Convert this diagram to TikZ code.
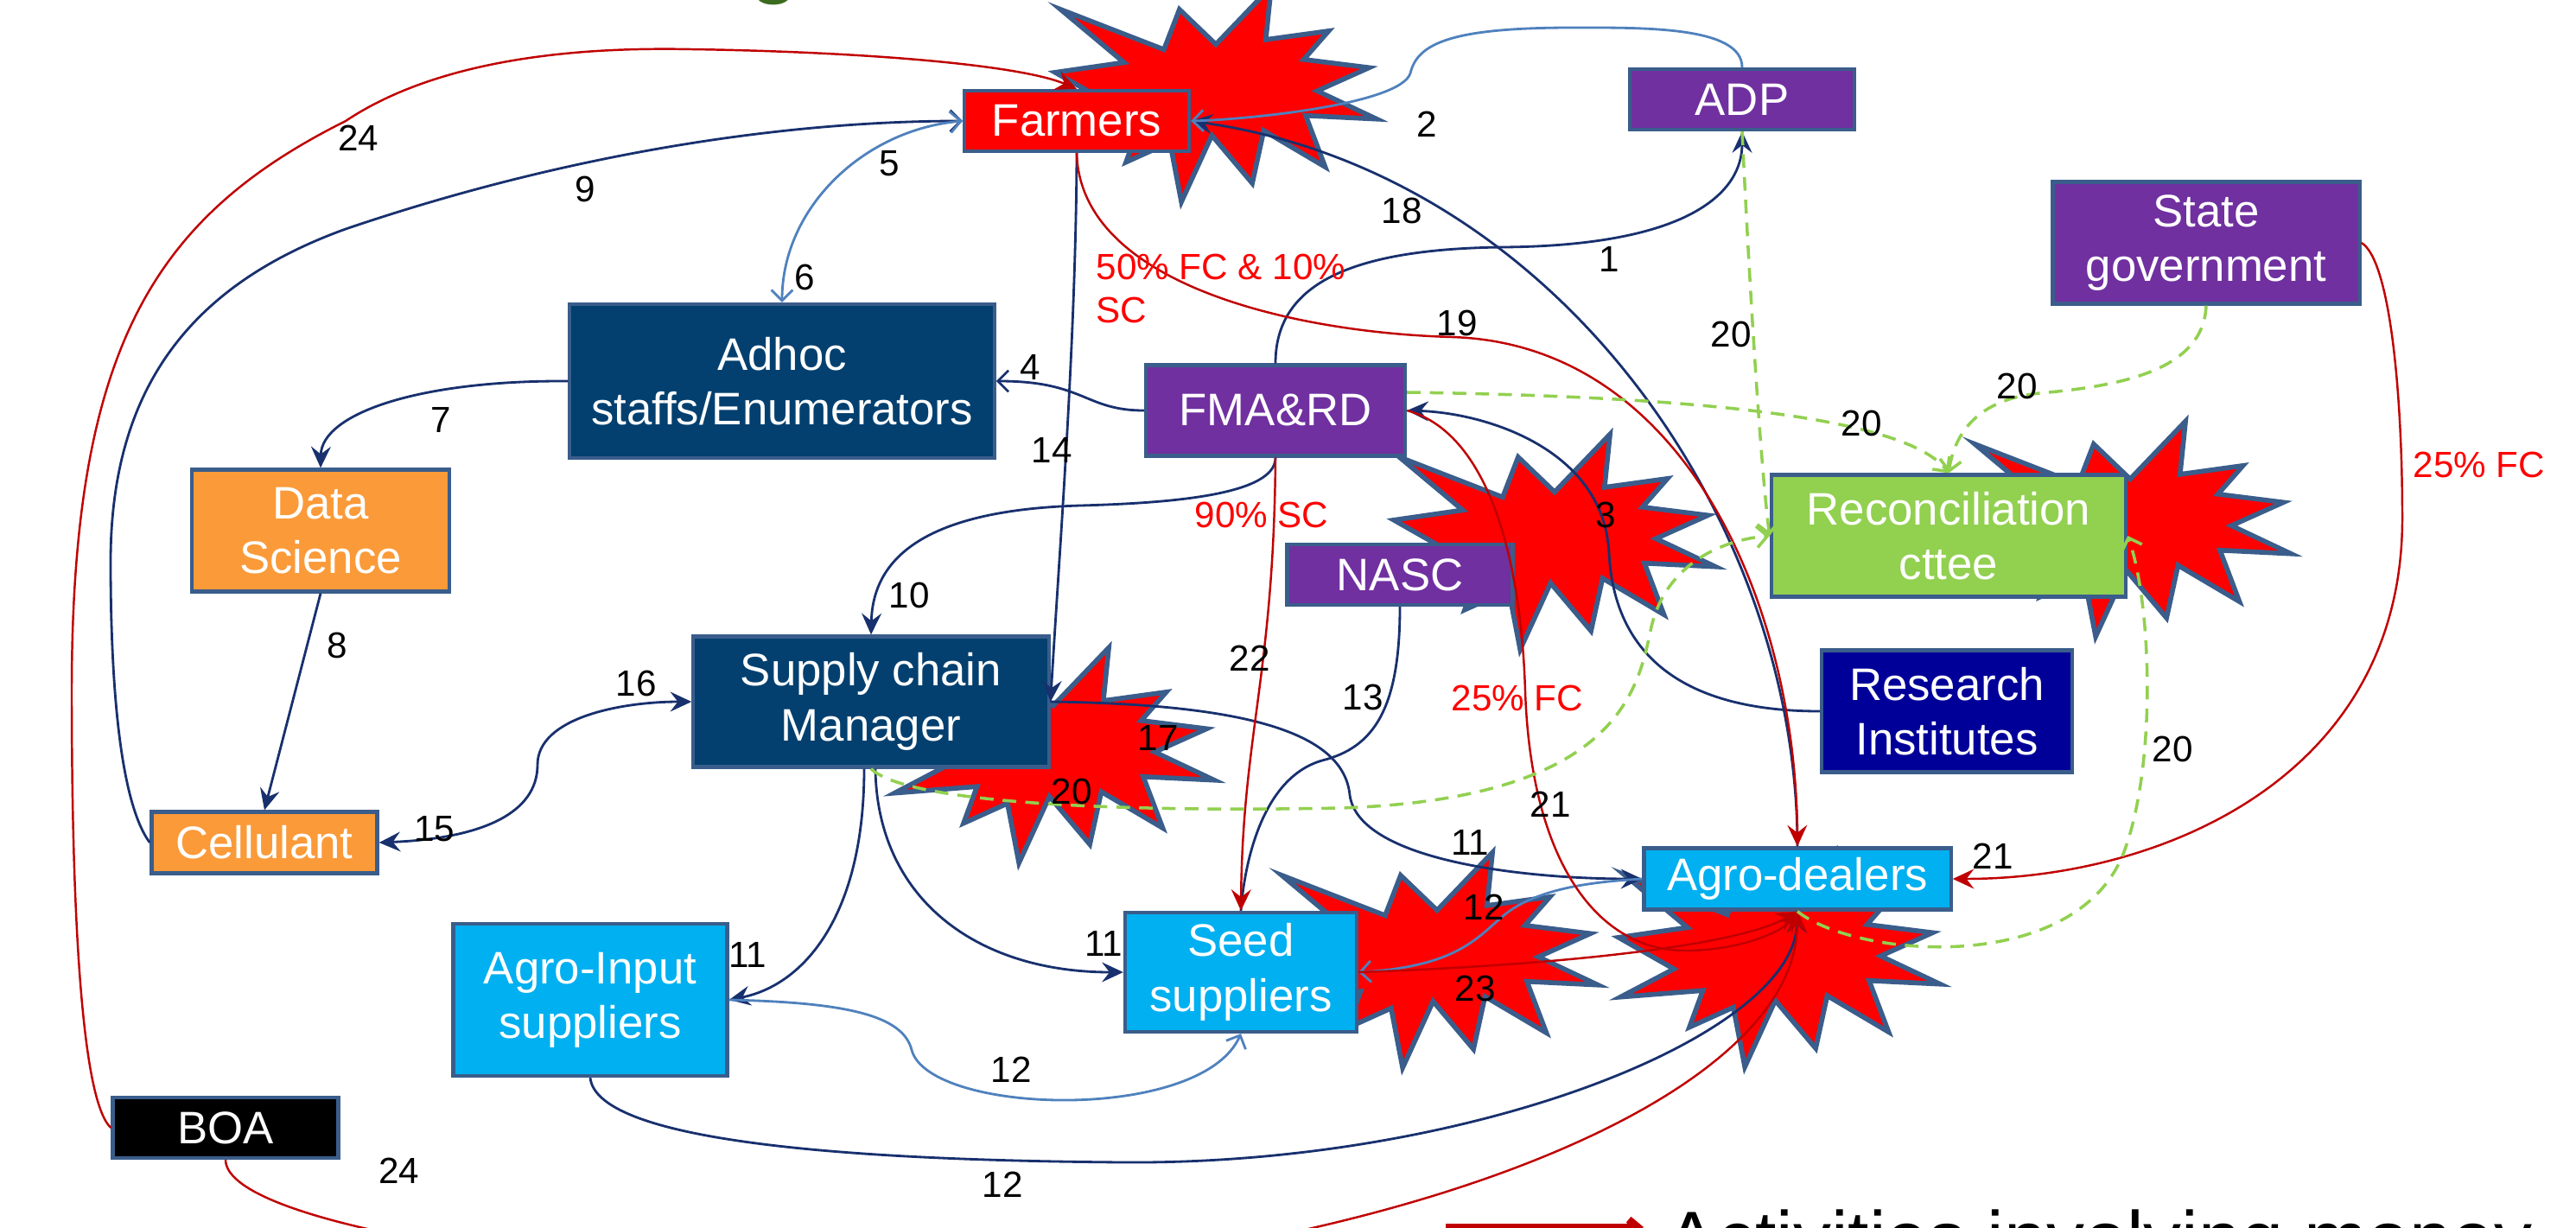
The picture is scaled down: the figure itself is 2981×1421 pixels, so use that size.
\documentclass[tikz,border=0pt]{standalone}
\usepackage{fontspec}
\setmainfont{Liberation Sans}
\usetikzlibrary{arrows.meta}
\definecolor{navyln}{HTML}{18306E}
\definecolor{lblue}{HTML}{4F81BD}
\definecolor{redln}{HTML}{C00000}
\definecolor{grn}{HTML}{92D050}
\definecolor{bordc}{HTML}{3A5D8B}
\definecolor{purp}{HTML}{7030A0}
\definecolor{dblue}{HTML}{03406F}
\definecolor{orng}{HTML}{FB9A39}
\definecolor{cyanb}{HTML}{00B0F0}
\definecolor{navyb}{HTML}{000099}
\definecolor{recg}{HTML}{92D050}
\definecolor{ttlgreen}{HTML}{3A6B1E}
\tikzset{
  ST/.tip={Stealth[length=7pt,width=6.5pt,inset=2.5pt]},
  OV/.tip={Straight Barb[length=3.5pt,width=7pt]},
  box/.style={draw=bordc, line width=1.2pt, text=white, align=center,
    font=\fontsize{15}{18}\selectfont, inner sep=0pt},
  lbl/.style={font=\fontsize{12}{14.2}\selectfont, inner sep=0pt},
  rlbl/.style={lbl, text=red},
  nv/.style={draw=navyln, line width=0.8pt},
  lb/.style={draw=lblue, line width=0.8pt},
  rd/.style={draw=redln, line width=0.7pt},
  gd/.style={draw=grn, line width=1pt, dash pattern=on 4.5pt off 3pt},
  boomstyle/.style={fill=red, draw=bordc, line width=1.6pt, line join=miter},
}
\newcommand{\boomat}[2]{%
  \filldraw[boomstyle, shift={(#1,#2)}, xscale=1.722, yscale=1.153]
  (0,-50) -- (37.22,-108) -- (33.55,-54.75) -- (75.8,-63.43) -- (59.02,-34.85)
  -- (102.97,-26.63) -- (68.07,-3.25) -- (108,24.9) -- (60.37,21.42)
  -- (73.45,72.95) -- (32.2,36.57) -- (24.47,89.37) -- (-2.68,41.35)
  -- (-23.15,108) -- (-30.85,48.27) -- (-60.38,68.17) -- (-51.33,31.37)
  -- (-106.65,37.87) -- (-70.78,9.75) -- (-108,-21.85) -- (-61.73,-31.83)
  -- (-104.3,-85.05) -- (-34.88,-44.8) -- (-24.48,-85.05) -- cycle;}
\begin{document}
\begin{tikzpicture}[x=0.01cm, y=-0.01cm]
\useasboundingbox (0,0) rectangle (2981,1421);
\clip (0,0) rectangle (2981,1421);
\fill[white] (0,0) rectangle (2981,1421);

% cut-off title letter
\node[font=\fontsize{26}{30}\selectfont\bfseries, text=ttlgreen, anchor=base, inner sep=0pt] (ttl) at (896,-14) {g};

% explosions
\boomat{1407}{109}
\boomat{1799}{627}
\boomat{2465}{612}
\boomat{1219}{874}
\boomat{1663}{1111}
\boomat{2059}{1110}

% nodes
\node[box, fill=red, minimum width=2.6cm, minimum height=0.7cm] (farmers) at (1246,140) {Farmers};
\node[box, fill=purp, minimum width=2.6cm, minimum height=0.7cm] (adp) at (2016,115) {ADP};
\node[box, fill=purp, minimum width=3.55cm, minimum height=1.41cm] (sg) at (2553,281) {State\\government};
\node[box, fill=dblue, minimum width=4.91cm, minimum height=1.78cm] (adhoc) at (905,441) {Adhoc\\staffs/Enumerators};
\node[box, fill=purp, minimum width=3.0cm, minimum height=1.05cm] (fma) at (1476,475) {FMA\&RD};
\node[box, fill=orng, minimum width=2.98cm, minimum height=1.41cm] (ds) at (371,614) {Data\\Science};
\node[box, fill=orng, minimum width=2.61cm, minimum height=0.71cm] (cell) at (306,975) {Cellulant};
\node[box, fill=dblue, minimum width=4.11cm, minimum height=1.51cm] (scm) at (1008,812) {Supply chain\\Manager};
\node[box, fill=purp, minimum width=2.61cm, minimum height=0.7cm] (nasc) at (1620,665) {NASC};
\node[box, fill=recg, minimum width=4.1cm, minimum height=1.41cm] (rec) at (2255,620) {Reconciliation\\cttee};
\node[box, fill=navyb, minimum width=2.9cm, minimum height=1.41cm] (ri) at (2253,823) {Research\\Institutes};
\node[box, fill=cyanb, minimum width=3.55cm, minimum height=0.71cm] (agro) at (2080,1017) {Agro-dealers};
\node[box, fill=cyanb, minimum width=2.68cm, minimum height=1.38cm] (seed) at (1436,1125) {Seed\\suppliers};
\node[box, fill=cyanb, minimum width=3.17cm, minimum height=1.76cm] (ai) at (683,1157) {Agro-Input\\suppliers};
\node[box, fill=black, minimum width=2.61cm, minimum height=0.7cm] (boa) at (261,1305) {BOA};

% navy connectors
\draw[nv,-ST] (fma.north) .. controls (1476,330) and (1560,288) .. (1740,286) .. controls (1960,284) and (2016,220) .. (adp.south);
\draw[nv,ST-] (farmers.east) .. controls (1800,200) and (2080,600) .. (agro.north);
\draw[nv,-ST] (ri.west) .. controls (1950,823) and (1868,760) .. (1862,640) .. controls (1856,520) and (1720,478) .. (fma.east);
\draw[nv,-ST] (ai.south) .. controls (690,1310) and (900,1342) .. (1300,1345) .. controls (1700,1348) and (2075,1200) .. (agro.south);
\draw[nv,-ST] ([xshift=-0.08cm]scm.south) .. controls (1000,1060) and (930,1140) .. (ai.east);
\draw[nv,-ST] ([xshift=0.05cm]scm.south) .. controls (1015,1040) and (1130,1125) .. (seed.west);
\draw[nv,-ST] (scm.east) .. controls (1450,815) and (1555,850) .. (1562,920) .. controls (1572,995) and (1760,1017) .. (agro.west);
\draw[nv] (nasc.south) .. controls (1620,820) and (1590,865) .. (1530,880) .. controls (1460,900) and (1440,1000) .. (seed.north);
\draw[nv,-ST] (fma.south) .. controls (1476,572) and (1360,582) .. (1250,585) .. controls (1080,590) and (1010,640) .. (scm.north);
\draw[nv,-ST] (farmers.south) .. controls (1245,400) and (1225,650) .. (scm.east);
\draw[nv,-OV] (fma.west) .. controls (1255,475) and (1255,441) .. (adhoc.east);
\draw[nv,-OV] (cell.west) .. controls (140,930) and (128,800) .. (128,650) .. controls (128,450) and (220,330) .. (400,265) .. controls (650,180) and (900,140) .. (farmers.west);
\draw[nv,ST-ST] (cell.east) .. controls (560,970) and (622,940) .. (622,885) .. controls (622,830) and (720,812) .. (scm.west);
\draw[nv,-ST] (adhoc.west) .. controls (480,440) and (372,480) .. (ds.north);
\draw[nv,-ST] (ds.south) -- (cell.north);

% light blue connectors
\draw[lb,-OV] (adp.north) .. controls (2016,30) and (1900,32) .. (1820,32) .. controls (1680,32) and (1640,50) .. (1632,85) .. controls (1620,120) and (1450,138) .. (farmers.east);
\draw[lb,OV-OV] (adhoc.north) .. controls (905,240) and (1000,150) .. (farmers.west);
\draw[lb,-OV] (ai.east) .. controls (980,1160) and (1045,1175) .. (1055,1215) .. controls (1075,1290) and (1390,1300) .. (seed.south);
\draw[lb,OV-] (seed.east) .. controls (1700,1118) and (1715,1075) .. (1750,1052) .. controls (1790,1026) and (1850,1020) .. (agro.west);

% red connectors
\draw[rd,-ST] (farmers.south) .. controls (1250,330) and (1500,385) .. (1680,390) .. controls (1950,398) and (2078,700) .. (agro.north);
\draw[rd,-ST] (fma.east) .. controls (1720,500) and (1760,640) .. (1765,800) .. controls (1772,1000) and (1850,1100) .. (1950,1100) .. controls (2010,1100) and (2060,1080) .. (agro.south);
\draw[rd,-ST] (seed.east) .. controls (1800,1117) and (2010,1095) .. (agro.south);
\draw[rd,-ST] (boa.west) .. controls (90,1270) and (83,1000) .. (83,800) .. controls (83,400) and (180,250) .. (400,140) .. controls (520,60) and (700,55) .. (800,57) .. controls (1000,60) and (1180,75) .. (farmers.north);
\draw[rd,-ST] (boa.south) .. controls (262,1420) and (700,1480) .. (1000,1480) .. controls (1500,1480) and (2078,1300) .. (agro.south);
\draw[rd,-ST] (fma.south) .. controls (1474,780) and (1438,850) .. (seed.north);
\draw[rd,-ST] (sg.east) .. controls (2765,300) and (2780,450) .. (2780,600) .. controls (2780,900) and (2500,1017) .. (agro.east);

% green dashed connectors
\draw[gd,-OV] (adp.south) .. controls (2028,400) and (2040,560) .. (rec.west);
\draw[gd,-OV] ([yshift=0.21cm]fma.east) .. controls (1900,458) and (2200,475) .. (rec.north);
\draw[gd,-OV] (sg.south) .. controls (2550,430) and (2450,447) .. (2360,455) .. controls (2290,462) and (2262,500) .. (rec.north);
\draw[gd,-OV] (scm.south) .. controls (1050,930) and (1300,940) .. (1550,935) .. controls (1870,925) and (1895,800) .. (1910,730) .. controls (1925,655) and (1990,625) .. (rec.west);
\draw[gd,-OV] (agro.south) .. controls (2150,1110) and (2410,1130) .. (2460,980) .. controls (2495,880) and (2490,700) .. (rec.east);

% labels
\node[lbl] (l24a) at (415,160) {24};
\node[lbl] (l9) at (677,219) {9};
\node[lbl] (l5) at (1029,189) {5};
\node[lbl] (l6) at (931,321) {6};
\node[lbl] (l2) at (1651,144) {2};
\node[lbl] (l18) at (1622,244) {18};
\node[lbl] (l1) at (1862,300) {1};
\node[lbl] (l4) at (1192,425) {4};
\node[lbl] (l7) at (510,486) {7};
\node[rlbl, anchor=north west, align=left] (lfc) at (1268,293) {50\% FC \& 10\%\\SC};
\node[lbl] (l19) at (1686,374) {19};
\node[lbl] (l20a) at (2003,387) {20};
\node[lbl] (l20b) at (2334,447) {20};
\node[lbl] (l20c) at (2154,490) {20};
\node[lbl] (l14) at (1217,521) {14};
\node[rlbl] (l90) at (1460,596) {90\% SC};
\node[lbl] (l3) at (1858,596) {3};
\node[rlbl] (l25a) at (2869,538) {25\% FC};
\node[lbl] (l10) at (1052,689) {10};
\node[lbl] (l8) at (390,747) {8};
\node[lbl] (l16) at (736,791) {16};
\node[lbl] (l22) at (1446,762) {22};
\node[lbl] (l13) at (1577,807) {13};
\node[rlbl] (l25b) at (1756,808) {25\% FC};
\node[lbl] (l17) at (1340,854) {17};
\node[lbl] (l20d) at (2514,867) {20};
\node[lbl] (l20e) at (1240,916) {20};
\node[lbl] (l21a) at (1794,931) {21};
\node[lbl] (l15) at (503,959) {15};
\node[lbl] (l11a) at (1701,975) {11};
\node[lbl] (l21b) at (2306,991) {21};
\node[lbl] (l11b) at (1277,1092) {11};
\node[lbl] (l12a) at (1717,1050) {12};
\node[lbl] (l11c) at (865,1105) {11};
\node[lbl] (l23) at (1707,1144) {23};
\node[lbl] (l12b) at (1170,1238) {12};
\node[lbl] (l24b) at (462,1355) {24};
\node[lbl] (l12c) at (1160,1371) {12};

% legend
\coordinate (lega) at (1673,1420);
\coordinate (legb) at (1902,1420);
\draw[redln, line width=2.5pt, -{Straight Barb[length=3pt,width=5pt]}] (lega) -- (legb);
\node[font=\fontsize{25}{30}\selectfont, anchor=base west, inner sep=0pt] (legtxt) at (1928,1463) {Activities involving money};
\end{tikzpicture}
\end{document}
